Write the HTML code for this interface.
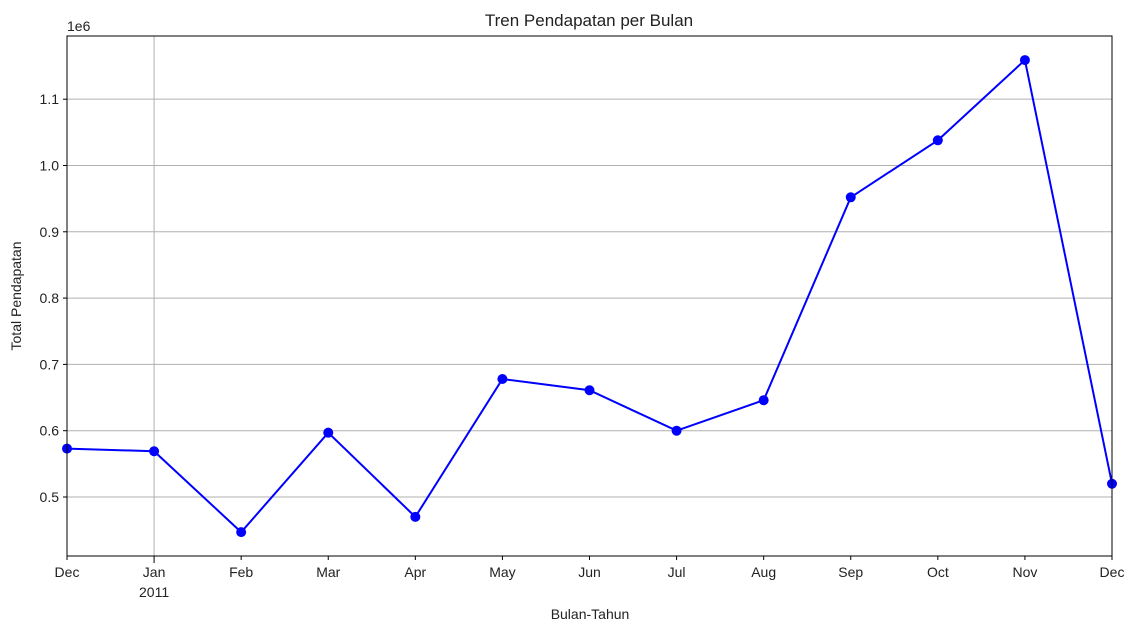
<!DOCTYPE html>
<html><head><meta charset="utf-8"><style>
body{margin:0;background:#fff;}
svg text{font-family:"Liberation Sans","DejaVu Sans",sans-serif;fill:#222;}
</style></head><body>
<svg id="chart" width="1134" height="631">
<text x="589" y="26" font-size="17" text-anchor="middle">Tren Pendapatan per Bulan</text>
<text x="590" y="619" font-size="14" text-anchor="middle">Bulan-Tahun</text>
<text transform="translate(21,296) rotate(-90)" font-size="14" text-anchor="middle">Total Pendapatan</text>
<text x="67" y="31" font-size="14">1e6</text>
<g id="grid"></g><g id="axes"></g><g id="series"></g>
<rect x="67" y="36" width="1045" height="520" fill="none" stroke="#000" stroke-width="1"/>
</svg>
<script>
const months = ["Dec","Jan","Feb","Mar","Apr","May","Jun","Jul","Aug","Sep","Oct","Nov","Dec"];
const revenue = [0.573,0.569,0.447,0.597,0.470,0.678,0.661,0.600,0.646,0.952,1.038,1.159,0.520];
const yTicks = [0.5,0.6,0.7,0.8,0.9,1.0,1.1];
const yTickLabels = ["0.5","0.6","0.7","0.8","0.9","1.0","1.1"];
const NS="http://www.w3.org/2000/svg";
const L=67,R=1112,T=36,B=556,yMin=0.4110,yMax=1.1953;
const xs=i=>L+(R-L)*i/(months.length-1);
const ys=v=>B-(v-yMin)/(yMax-yMin)*(B-T);
function mk(tag,attrs,parent){const e=document.createElementNS(NS,tag);for(const k in attrs)e.setAttribute(k,attrs[k]);parent.appendChild(e);return e;}
const grid=document.getElementById('grid'),axes=document.getElementById('axes'),series=document.getElementById('series');
yTicks.forEach((v,i)=>{
  const y=ys(v);
  const g=mk('line',{x1:L,x2:R,y1:y,y2:y,stroke:'#b0b0b0','stroke-width':1},grid);
  
  
  mk('line',{x1:L-4,x2:L,y1:y,y2:y,stroke:'#000'},axes);
  const t=mk('text',{x:L-8,y:y+5,'font-size':14,'text-anchor':'end'},axes);
  t.textContent=yTickLabels[i];
  
  
});
const vg=mk('line',{x1:xs(1),x2:xs(1),y1:T,y2:B,stroke:'#b0b0b0','stroke-width':1},grid);


months.forEach((m,i)=>{
  const x=xs(i);
  mk('line',{x1:x,x2:x,y1:B,y2:B+(i==1?7:4),stroke:'#000'},axes);
  const t=mk('text',{x:x,y:B+21,'font-size':14,'text-anchor':'middle'},axes);
  t.textContent=m;
  
  
});
const yr=mk('text',{x:xs(1),y:B+41,'font-size':14,'text-anchor':'middle'},axes);
yr.textContent="2011";


const pts=revenue.map((v,i)=>xs(i)+','+ys(v)).join(' ');
const line=mk('polyline',{points:pts,fill:'none',stroke:'#0000ff','stroke-width':2},series);


revenue.forEach((v,i)=>{
  const c=mk('circle',{cx:xs(i),cy:ys(v),r:5,fill:'#0000ff'},series);
  
  
});
</script>
</body></html>
